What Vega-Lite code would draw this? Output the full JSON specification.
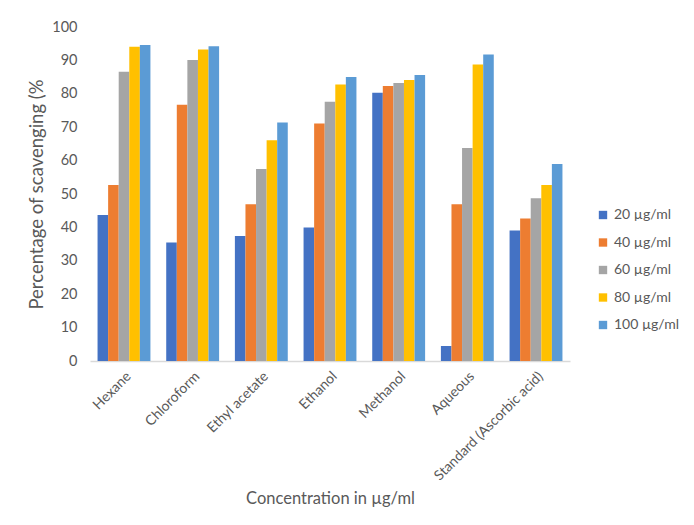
{
  "$schema": "https://vega.github.io/schema/vega-lite/v6.json",
  "width": 480,
  "height": 334,
  "autosize": {"type": "none"},
  "padding": {"left": 90, "top": 27, "right": 124, "bottom": 164},
  "background": "white",
  "config": {
    "view": {"stroke": null},
    "font": "Lato",
    "axis": {"labelColor": "#595959", "titleColor": "#595959", "labelFont": "Lato", "titleFont": "Lato", "titleFontWeight": "normal"},
    "legend": {"labelColor": "#595959", "labelFont": "Lato"}
  },
  "data": {
    "values": [
      {"solvent": "Hexane", "conc": "20 µg/ml", "value": 43.7},
      {"solvent": "Hexane", "conc": "40 µg/ml", "value": 52.7},
      {"solvent": "Hexane", "conc": "60 µg/ml", "value": 86.6},
      {"solvent": "Hexane", "conc": "80 µg/ml", "value": 94.1},
      {"solvent": "Hexane", "conc": "100 µg/ml", "value": 94.6},
      {"solvent": "Chloroform", "conc": "20 µg/ml", "value": 35.5},
      {"solvent": "Chloroform", "conc": "40 µg/ml", "value": 76.7},
      {"solvent": "Chloroform", "conc": "60 µg/ml", "value": 90.1},
      {"solvent": "Chloroform", "conc": "80 µg/ml", "value": 93.3},
      {"solvent": "Chloroform", "conc": "100 µg/ml", "value": 94.2},
      {"solvent": "Ethyl acetate", "conc": "20 µg/ml", "value": 37.4},
      {"solvent": "Ethyl acetate", "conc": "40 µg/ml", "value": 46.9},
      {"solvent": "Ethyl acetate", "conc": "60 µg/ml", "value": 57.5},
      {"solvent": "Ethyl acetate", "conc": "80 µg/ml", "value": 66.1},
      {"solvent": "Ethyl acetate", "conc": "100 µg/ml", "value": 71.4},
      {"solvent": "Ethanol", "conc": "20 µg/ml", "value": 40.0},
      {"solvent": "Ethanol", "conc": "40 µg/ml", "value": 71.1},
      {"solvent": "Ethanol", "conc": "60 µg/ml", "value": 77.6},
      {"solvent": "Ethanol", "conc": "80 µg/ml", "value": 82.8},
      {"solvent": "Ethanol", "conc": "100 µg/ml", "value": 85.0},
      {"solvent": "Methanol", "conc": "20 µg/ml", "value": 80.3},
      {"solvent": "Methanol", "conc": "40 µg/ml", "value": 82.3},
      {"solvent": "Methanol", "conc": "60 µg/ml", "value": 83.2},
      {"solvent": "Methanol", "conc": "80 µg/ml", "value": 84.1},
      {"solvent": "Methanol", "conc": "100 µg/ml", "value": 85.6},
      {"solvent": "Aqueous", "conc": "20 µg/ml", "value": 4.5},
      {"solvent": "Aqueous", "conc": "40 µg/ml", "value": 46.9},
      {"solvent": "Aqueous", "conc": "60 µg/ml", "value": 63.8},
      {"solvent": "Aqueous", "conc": "80 µg/ml", "value": 88.8},
      {"solvent": "Aqueous", "conc": "100 µg/ml", "value": 91.8},
      {"solvent": "Standard (Ascorbic acid)", "conc": "20 µg/ml", "value": 39.1},
      {"solvent": "Standard (Ascorbic acid)", "conc": "40 µg/ml", "value": 42.7},
      {"solvent": "Standard (Ascorbic acid)", "conc": "60 µg/ml", "value": 48.7},
      {"solvent": "Standard (Ascorbic acid)", "conc": "80 µg/ml", "value": 52.7},
      {"solvent": "Standard (Ascorbic acid)", "conc": "100 µg/ml", "value": 59.0}
    ]
  },
  "mark": {"type": "bar"},
  "encoding": {
    "x": {
      "field": "solvent",
      "type": "nominal",
      "sort": null,
      "scale": {"paddingInner": 0.23, "paddingOuter": 0.11},
      "axis": {
        "title": "Concentration in µg/ml",
        "titleFontSize": 16.5,
        "titlePadding": 8,
        "labelAngle": -45,
        "labelFontSize": 14,
        "labelPadding": 8,
        "ticks": false,
        "domainColor": "#d9d9d9",
        "domainWidth": 1.5,
        "labelLimit": 300
      }
    },
    "xOffset": {
      "field": "conc",
      "type": "nominal",
      "sort": ["20 µg/ml", "40 µg/ml", "60 µg/ml", "80 µg/ml", "100 µg/ml"],
      "scale": {"paddingInner": 0, "paddingOuter": 0}
    },
    "y": {
      "field": "value",
      "type": "quantitative",
      "scale": {"domain": [0, 100]},
      "axis": {
        "title": "Percentage of scavenging (%",
        "titleFontSize": 18.5,
        "titlePadding": 5,
        "labelFontSize": 14.5,
        "labelPadding": 13,
        "labelOverlap": false,
        "values": [0, 10, 20, 30, 40, 50, 60, 70, 80, 90, 100],
        "ticks": false,
        "domain": false,
        "grid": false
      }
    },
    "color": {
      "field": "conc",
      "type": "nominal",
      "sort": ["20 µg/ml", "40 µg/ml", "60 µg/ml", "80 µg/ml", "100 µg/ml"],
      "scale": {
        "domain": ["20 µg/ml", "40 µg/ml", "60 µg/ml", "80 µg/ml", "100 µg/ml"],
        "range": ["#4472C4", "#ED7D31", "#A5A5A5", "#FFC000", "#5B9BD5"]
      },
      "legend": {
        "title": null,
        "orient": "none",
        "legendX": 506,
        "legendY": 181,
        "symbolType": "square",
        "symbolSize": 70,
        "symbolStrokeWidth": 0,
        "labelFontSize": 14,
        "labelOffset": 4,
        "rowPadding": 13.5
      }
    }
  }
}
